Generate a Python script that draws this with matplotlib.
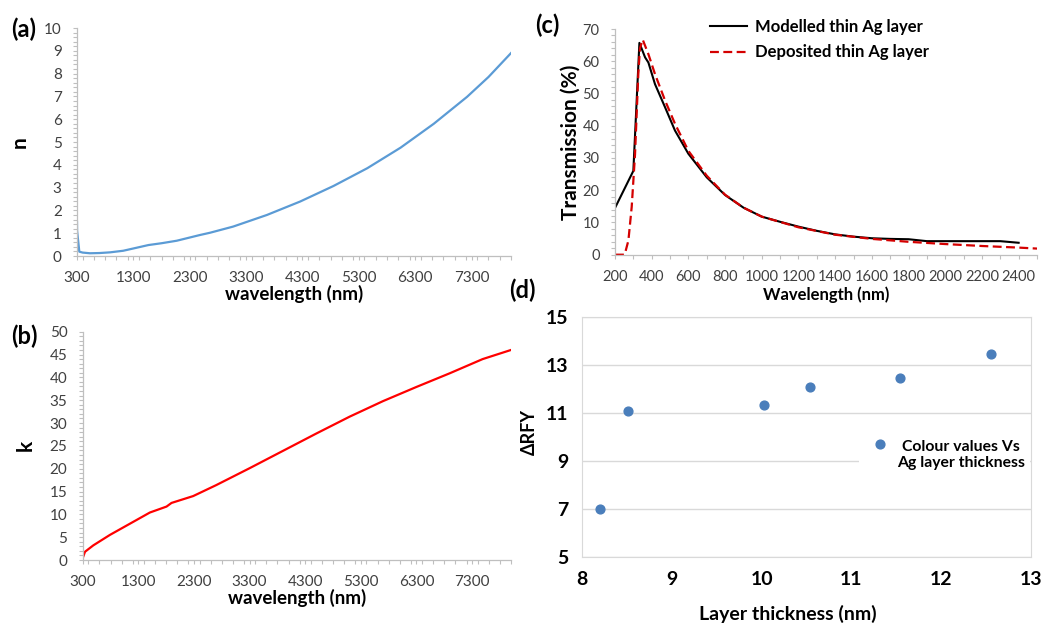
import numpy as np
import matplotlib
matplotlib.use("Agg")
import matplotlib.pyplot as plt
from matplotlib.ticker import MultipleLocator, FixedLocator

plt.rcParams['font.family'] = ['Lato', 'DejaVu Sans']

# (a) refractive index n
n_wl = [300, 302, 341, 400, 530, 700, 886, 1120, 1300, 1567, 1800, 2070, 2480, 2660, 3070,
        3670, 4260, 4850, 5450, 6040, 6630, 7220, 7600, 8000]
n_val = [1.5, 1.1, 0.19, 0.15, 0.12, 0.13, 0.16, 0.23, 0.33, 0.48, 0.56, 0.67, 0.92, 1.02, 1.29,
         1.80, 2.39, 3.07, 3.85, 4.75, 5.80, 6.98, 7.85, 8.9]

# (b) extinction coefficient k
k_wl = [300, 341, 490, 790, 1508, 1807, 1897, 2286, 2700, 3300, 3900, 4500, 5100, 5700,
        6300, 6900, 7490, 8000]
k_val = [0.4, 1.8, 3.2, 5.5, 10.4, 11.7, 12.5, 14.0, 16.4, 20.1, 23.9, 27.7, 31.4, 34.8,
         37.9, 40.9, 44.0, 46.0]

# (c) transmission
mod_wl = [200, 300, 333, 364, 382, 418, 473, 527, 600, 700, 800, 900, 1000, 1100, 1200,
          1300, 1400, 1500, 1600, 1700, 1800, 1850, 1900, 2000, 2200, 2300, 2400]
mod_T = [14.5, 26.0, 65.7, 61.2, 59.6, 52.9, 45.7, 38.5, 31.3, 24.0, 18.5, 14.6, 11.8, 10.2, 8.7,
         7.4, 6.3, 5.6, 5.1, 4.9, 4.8, 4.5, 4.2, 4.2, 4.2, 4.2, 3.7]
dep_wl = [200, 250, 254, 273, 291, 309, 327, 336, 351, 382, 418, 473, 527, 600, 700, 800, 900,
          1000, 1200, 1400, 1600, 1800, 2000, 2200, 2400, 2500]
dep_T = [0, 0, 0.3, 4.4, 14.8, 31.0, 56.0, 64.0, 66.7, 62.2, 56.0, 47.8, 40.6, 32.2, 24.5, 18.6,
         14.6, 11.8, 8.5, 6.2, 4.9, 4.0, 3.3, 2.7, 2.2, 1.9]

# (d) colour values vs thickness
thick = [8.20, 8.51, 10.03, 10.535, 11.54, 12.55]
drfy = [6.98, 11.08, 11.33, 12.08, 12.47, 13.45]

W, H = 1043, 626
fig = plt.figure(figsize=(W / 100, H / 100), dpi=100)

def box(l, r, t, b):
    return [l / W, 1 - b / H, (r - l) / W, (b - t) / H]

tick_col = '#404040'
spine_col = '#BFBFBF'

def excel_axes(ax, size=11):
    for s in ['top', 'right']:
        ax.spines[s].set_visible(False)
    for s in ['left', 'bottom']:
        ax.spines[s].set_color(spine_col)
        ax.spines[s].set_linewidth(0.9)
    ax.tick_params(which='both', direction='out', length=3, width=0.8, color=spine_col,
                   labelcolor=tick_col, labelsize=size, pad=8)

ax_a = fig.add_axes(box(77, 511, 28, 256))
ax_a.plot(n_wl, n_val, color='#5B9BD5', lw=1.6)
ax_a.set_xlim(300, 8000)
ax_a.set_ylim(0, 10)
ax_a.xaxis.set_major_locator(FixedLocator(np.arange(300, 8000, 1000)))
ax_a.xaxis.set_minor_locator(MultipleLocator(200))
ax_a.yaxis.set_major_locator(MultipleLocator(1))
ax_a.yaxis.set_minor_locator(MultipleLocator(0.2))
excel_axes(ax_a)
ax_a.set_ylabel('n', fontsize=15, fontweight='bold', labelpad=10)
ax_a.set_xlabel('wavelength (nm)', fontsize=13.5, fontweight='bold', labelpad=0)

ax_b = fig.add_axes(box(82.7, 511, 331.7, 560))
ax_b.plot(k_wl, k_val, color='#FF0000', lw=1.6)
ax_b.set_xlim(300, 8000)
ax_b.set_ylim(0, 50)
ax_b.xaxis.set_major_locator(FixedLocator(np.arange(300, 8000, 1000)))
ax_b.xaxis.set_minor_locator(MultipleLocator(200))
ax_b.yaxis.set_major_locator(MultipleLocator(5))
ax_b.yaxis.set_minor_locator(MultipleLocator(1))
excel_axes(ax_b)
ax_b.set_ylabel('k', fontsize=15, fontweight='bold', labelpad=10)
ax_b.set_xlabel('wavelength (nm)', fontsize=13.5, fontweight='bold', labelpad=0)

ax_c = fig.add_axes(box(615, 1037, 29, 254.7))
ax_c.plot(mod_wl, mod_T, color='black', lw=1.5, label='Modelled thin Ag layer')
ax_c.plot(dep_wl, dep_T, color='#D40000', lw=1.6, ls=(0, (4, 2)), label='Deposited thin Ag layer')
ax_c.set_xlim(200, 2500)
ax_c.set_ylim(0, 70)
ax_c.xaxis.set_major_locator(FixedLocator(np.arange(200, 2500, 200)))
ax_c.xaxis.set_minor_locator(MultipleLocator(100))
ax_c.yaxis.set_major_locator(MultipleLocator(10))
ax_c.yaxis.set_minor_locator(MultipleLocator(2))
excel_axes(ax_c, size=10.5)
ax_c.set_ylabel('Transmission (%)', fontsize=15, fontweight='bold', labelpad=1.5)
ax_c.set_xlabel('Wavelength (nm)', fontsize=12, fontweight='bold', labelpad=2)
leg_c = ax_c.legend(loc='upper left', bbox_to_anchor=(0.19, 1.11), frameon=False,
                    prop={'weight': 'bold', 'size': 12}, handlelength=2.2, handletextpad=0.5,
                    labelspacing=0.55)

ax_d = fig.add_axes(box(582, 1031, 317.3, 556.7))
ax_d.scatter(thick, drfy, s=40, color='#4A7EBB', zorder=3, label='Colour values Vs\nAg layer thickness')
ax_d.set_xlim(8, 13)
ax_d.set_ylim(5, 15)
ax_d.set_yticks([5, 7, 9, 11, 13, 15])
ax_d.set_xticks([8, 9, 10, 11, 12, 13])
ax_d.grid(axis='y', color='#D9D9D9', lw=1)
for s in ax_d.spines.values():
    s.set_color('#D9D9D9')
ax_d.tick_params(length=0, labelsize=14, pad=10)
for t in ax_d.get_xticklabels() + ax_d.get_yticklabels():
    t.set_fontweight('bold')
ax_d.set_ylabel('ΔRFY', fontsize=13, fontweight='bold')
ax_d.yaxis.set_label_coords(-44 / 449, 0.52)
ax_d.set_xlabel('Layer thickness (nm)', fontsize=14, fontweight='bold')
ax_d.xaxis.set_label_coords(0.458, -48 / 239.4)
leg_d = ax_d.legend(loc='center left', bbox_to_anchor=(0.6, 0.425), frameon=True,
                    edgecolor='none', facecolor='white', framealpha=1, fancybox=False,
                    prop={'weight': 'bold', 'size': 11.3}, handletextpad=0.1, borderpad=0.3,
                    scatteryoffsets=[1.5])
for t in leg_d.get_texts():
    t.set_multialignment('center')

for x, y, s in [(11, 29, '(a)'), (11, 336, '(b)'), (535, 25, '(c)'), (509, 290, '(d)')]:
    fig.text(x / W, 1 - y / H, s, ha='left', va='center', fontsize=17, fontweight='bold')

fig.savefig('out.png', dpi=100)
